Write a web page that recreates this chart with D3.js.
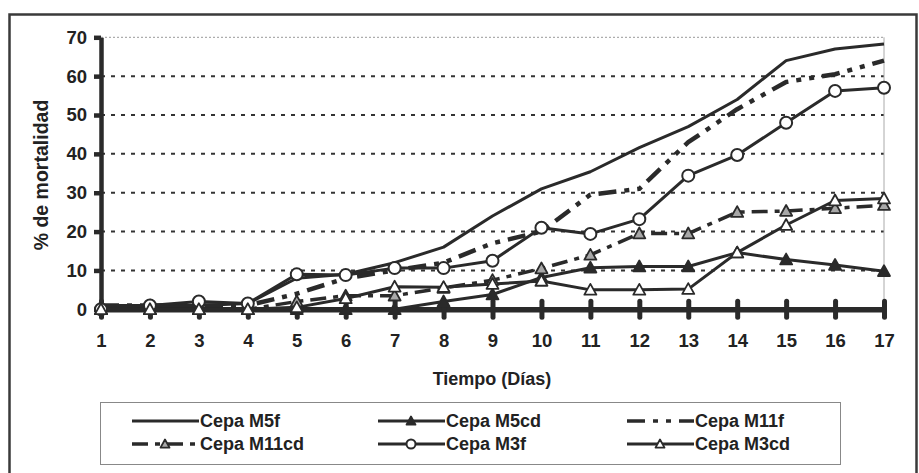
<!DOCTYPE html>
<html>
<head>
<meta charset="utf-8">
<script src="https://cdn.jsdelivr.net/npm/d3@7"></script>
<style>
  body { margin: 0; background: #fff; }
  svg text { font-family: "Liberation Sans", Arial, sans-serif; font-weight: bold; fill: #222; }
</style>
</head>
<body>
<div id="chart"></div>
<script>
// values, days 1..17
const days = [1, 2, 3, 4, 5, 6, 7, 8, 9, 10, 11, 12, 13, 14, 15, 16, 17];
const m5f  = [1, 1, 1, 1.5, 8, 9, 12, 16, 24, 31, 35.4, 41.6, 47, 54, 64, 67, 68.3];
const m5cd = [0, 0, 0, 0, 0, 0, 0, 2, 3.8, 8.2, 10.7, 11, 11, 14.6, 12.8, 11.4, 9.8];
const m11f = [1, 1, 1, 1, 4, 8, 10, 12, 17, 20, 29.5, 31, 43, 51.5, 58.5, 60.5, 64];
const m11cd = [0, 0, 0, 0, 2, 3.5, 3.5, 5.5, 7.5, 10.5, 14, 19.5, 19.5, 25, 25.3, 26, 26.8];
const m3f  = [0, 1, 2, 1.5, 9, 8.8, 10.6, 10.6, 12.5, 21, 19.4, 23.2, 34.4, 39.7, 48, 56.2, 57];
const m3cd = [0, 0, 0, 0, 0.5, 2.8, 5.8, 5.7, 6.5, 7.3, 5, 5, 5.2, 14.6, 21.7, 28, 28.5];
const yTicks = [0, 10, 20, 30, 40, 50, 60, 70];
const seriesNames = ['Cepa M5f', 'Cepa M5cd', 'Cepa M11f', 'Cepa M11cd', 'Cepa M3f', 'Cepa M3cd'];

const ink = '#2a2a2a';
const styles = [
    { values: m5f,  dash: null, width: 3, marker: null },
    { values: m5cd, dash: null, width: 3, marker: 'triFilled' },
    { values: m11f, dash: '18,8,5,8,5,8', width: 4.5, marker: null },
    { values: m11cd, dash: '16,7,5,7', width: 3.5, marker: 'triGray' },
    { values: m3f,  dash: null, width: 3, marker: 'circle' },
    { values: m3cd, dash: null, width: 3, marker: 'triOpen' }
];

const width = 919, height = 473;
const svg = d3.select('#chart').append('svg')
    .attr('width', width)
    .attr('height', height);

// outer frame
svg.append('rect')
    .attr('x', 9.5).attr('y', 14.5)
    .attr('width', 907).attr('height', 470)
    .attr('fill', 'none')
    .attr('stroke', '#3a3a3a')
    .attr('stroke-width', 2.5);

const x = d3.scaleLinear().domain([1, 17]).range([101, 884]);
const y = d3.scaleLinear().domain([0, 70]).range([309.3, 37.3]);

// gridlines
svg.append('g')
    .selectAll('line')
    .data(yTicks.filter(t => t > 0))
    .enter()
    .append('line')
    .attr('x1', x(1)).attr('x2', x(17))
    .attr('y1', d => y(d)).attr('y2', d => y(d))
    .attr('stroke', d => d === 70 ? '#999' : '#333')
    .attr('stroke-width', d => d === 70 ? 1 : 2)
    .attr('stroke-dasharray', d => d === 70 ? '2,2' : '4,6');

// right edge of plot area
svg.append('line')
    .attr('x1', x(17)).attr('x2', x(17))
    .attr('y1', y(70)).attr('y2', y(0))
    .attr('stroke', '#aaa')
    .attr('stroke-width', 1);

// y axis
const yAxis = svg.append('g')
    .attr('transform', `translate(${x(1)},0)`)
    .call(d3.axisLeft(y).tickValues(yTicks).tickSize(7).tickSizeOuter(0).tickPadding(7));
yAxis.select('.domain').attr('stroke', ink).attr('stroke-width', 4.5);
yAxis.selectAll('.tick line').attr('stroke', ink).attr('stroke-width', 4.5);
yAxis.selectAll('text').style('font-size', '18.5px').attr('fill', '#222');

// x axis with crossing ticks
const xAxis = svg.append('g')
    .attr('transform', `translate(0,${y(0)})`)
    .call(d3.axisBottom(x).tickValues(days).tickFormat(d3.format('d')).tickSize(8).tickSizeOuter(0).tickPadding(17));
xAxis.select('.domain').attr('stroke', ink).attr('stroke-width', 5.5);
xAxis.selectAll('.tick line')
    .attr('y1', -8)
    .attr('stroke', ink).attr('stroke-width', 5)
    .attr('stroke-linecap', 'round');
xAxis.selectAll('text').style('font-size', '18.5px').attr('fill', '#222');

// axis titles
svg.append('text')
    .attr('x', 492).attr('y', 385)
    .attr('text-anchor', 'middle')
    .style('font-size', '18px')
    .text('Tiempo (Días)');

svg.append('text')
    .attr('transform', 'translate(48,175) rotate(-90)')
    .attr('text-anchor', 'middle')
    .style('font-size', '19.5px')
    .text('% de mortalidad');

function drawMarker(g, type, cx, cy, s) {
    if (type === 'circle') {
        g.append('circle')
            .attr('cx', cx).attr('cy', cy).attr('r', s)
            .attr('fill', '#fff').attr('stroke', ink).attr('stroke-width', 2);
    } else if (type) {
        const fill = type === 'triFilled' ? ink : type === 'triGray' ? '#a8a8a8' : '#fff';
        g.append('path')
            .attr('d', `M${cx},${cy - s}L${cx + s},${cy + s * 0.8}L${cx - s},${cy + s * 0.8}Z`)
            .attr('fill', fill).attr('stroke', ink).attr('stroke-width', 1.8)
            .attr('stroke-linejoin', 'round');
    }
}

const line = d3.line()
    .x((d, i) => x(days[i]))
    .y(d => y(d));

const plot = svg.append('g');
styles.forEach(s => {
    plot.append('path')
        .datum(s.values)
        .attr('fill', 'none')
        .attr('stroke', ink)
        .attr('stroke-width', s.width)
        .attr('stroke-dasharray', s.dash)
        .attr('stroke-linejoin', 'round')
        .attr('d', line);
});
styles.forEach(s => {
    if (!s.marker) return;
    s.values.forEach((v, i) => drawMarker(plot, s.marker, x(days[i]), y(v), 6));
});

// legend
svg.append('rect')
    .attr('x', 100.5).attr('y', 402.5)
    .attr('width', 740).attr('height', 62)
    .attr('fill', 'none')
    .attr('stroke', '#888')
    .attr('stroke-width', 1);

const colX = [132, 378, 627];
const rowY = [421, 444];
const legend = svg.append('g');
seriesNames.forEach((name, i) => {
    const s = styles[i];
    const lx = colX[i % 3], ly = rowY[Math.floor(i / 3)];
    legend.append('line')
        .attr('x1', lx).attr('x2', lx + 67)
        .attr('y1', ly).attr('y2', ly)
        .attr('stroke', ink)
        .attr('stroke-width', Math.min(s.width, 3.5))
        .attr('stroke-dasharray', s.dash);
    drawMarker(legend, s.marker, lx + 33, ly, 4.5);
    legend.append('text')
        .attr('x', lx + 68).attr('y', ly)
        .attr('dy', '0.36em')
        .style('font-size', '18px')
        .text(name);
});
</script>
</body>
</html>
